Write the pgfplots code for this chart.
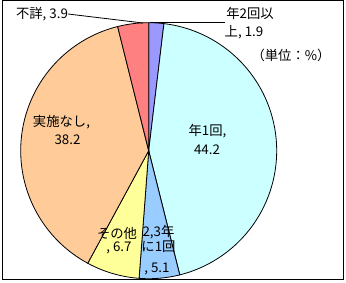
\documentclass[border=0pt]{standalone}
\usepackage{pgfplots}
\usepackage{pgfplotstable}
\pgfplotsset{compat=1.18}
\usepackage{fontspec}
\setmainfont{Noto Sans CJK JP}
\definecolor{cA}{HTML}{9999FF}
\definecolor{cB}{HTML}{CCFFFF}
\definecolor{cC}{HTML}{99CCFF}
\definecolor{cD}{HTML}{FFFF99}
\definecolor{cE}{HTML}{FFCC99}
\definecolor{cF}{HTML}{FF8080}
\pgfplotstableread{
label value
nen2 1.9
nen1 44.2
nen23 5.1
other 6.7
none 38.2
unknown 3.9
}\piedata
\begin{document}
\begin{tikzpicture}
\pgfplotstablegetelem{0}{value}\of\piedata \let\vA\pgfplotsretval
\pgfplotstablegetelem{1}{value}\of\piedata \let\vB\pgfplotsretval
\pgfplotstablegetelem{2}{value}\of\piedata \let\vC\pgfplotsretval
\pgfplotstablegetelem{3}{value}\of\piedata \let\vD\pgfplotsretval
\pgfplotstablegetelem{4}{value}\of\piedata \let\vE\pgfplotsretval
\pgfplotstablegetelem{5}{value}\of\piedata \let\vF\pgfplotsretval
\pgfmathsetmacro\aA{90}
\pgfmathsetmacro\aB{\aA-3.6*\vA}
\pgfmathsetmacro\aC{\aB-3.6*\vB}
\pgfmathsetmacro\aD{\aC-3.6*\vC}
\pgfmathsetmacro\aE{\aD-3.6*\vD}
\pgfmathsetmacro\aF{\aE-3.6*\vE}
\pgfmathsetmacro\aG{\aF-3.6*\vF}
\def\cx{148.7}
\def\cy{150.7}
\def\R{128}
\begin{axis}[
  scale only axis, width=259.5pt, height=211.5pt,
  xmin=0, xmax=346, ymin=0, ymax=282, y dir=reverse,
  hide axis, clip=false,
  every node/.style={font=\fontsize{8}{10}\selectfont, inner sep=0pt},
]
\path[fill=white] (axis cs:0,0) rectangle (axis cs:346,282);
\addplot[draw=black, line width=0.6pt, fill=cA, domain=\aB:\aA, samples=20] ({\cx+\R*cos(x)},{\cy-\R*sin(x)}) -- (axis cs:\cx,\cy) -- cycle;
\addplot[draw=black, line width=0.6pt, fill=cB, domain=\aC:\aB, samples=120] ({\cx+\R*cos(x)},{\cy-\R*sin(x)}) -- (axis cs:\cx,\cy) -- cycle;
\addplot[draw=black, line width=0.6pt, fill=cC, domain=\aD:\aC, samples=20] ({\cx+\R*cos(x)},{\cy-\R*sin(x)}) -- (axis cs:\cx,\cy) -- cycle;
\addplot[draw=black, line width=0.6pt, fill=cD, domain=\aE:\aD, samples=20] ({\cx+\R*cos(x)},{\cy-\R*sin(x)}) -- (axis cs:\cx,\cy) -- cycle;
\addplot[draw=black, line width=0.6pt, fill=cE, domain=\aF:\aE, samples=120] ({\cx+\R*cos(x)},{\cy-\R*sin(x)}) -- (axis cs:\cx,\cy) -- cycle;
\addplot[draw=black, line width=0.6pt, fill=cF, domain=\aG:\aF, samples=20] ({\cx+\R*cos(x)},{\cy-\R*sin(x)}) -- (axis cs:\cx,\cy) -- cycle;
% frame
\draw[line width=0.75pt] (axis cs:2.5,0.5) rectangle (axis cs:343.5,279);
% leader lines
\draw[line width=0.6pt] (axis cs:68,14) -- (axis cs:143,23);
\draw[line width=0.6pt] (axis cs:150,22.7) -- (axis cs:225,22.7);
% labels
\node at (axis cs:42,14) {不詳, 3.9};
\node at (axis cs:250,13.5) {年2回以};
\node at (axis cs:244,32) {上, 1.9};
\node at (axis cs:291,55) {（単位：\%）};
\node at (axis cs:61.5,122) {実施なし,};
\node at (axis cs:67.5,140) {38.2};
\node at (axis cs:207.5,131) {年1回,};
\node at (axis cs:207,150) {44.2};
\node at (axis cs:117,233) {その他};
\node at (axis cs:119,248) {, 6.7};
\node at (axis cs:158.5,232) {2,3年};
\node at (axis cs:158.5,247) {に1回};
\node at (axis cs:157,269) {, 5.1};
\end{axis}
\end{tikzpicture}
\end{document}
